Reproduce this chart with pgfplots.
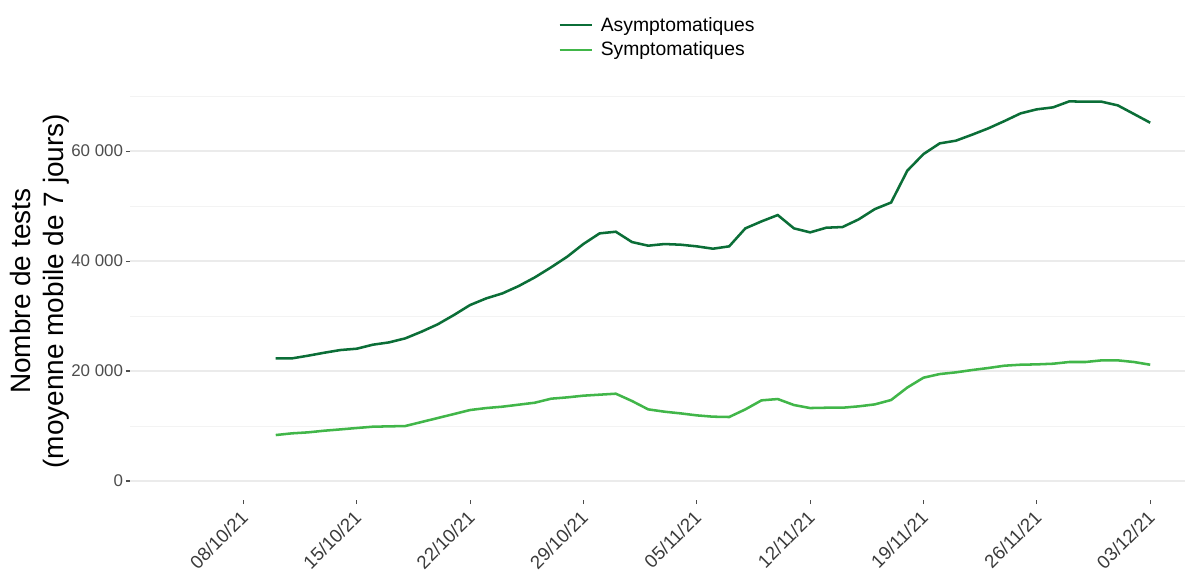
\documentclass[border=0pt]{standalone}
\usepackage{fontspec}
\setmainfont{Liberation Sans}
\usepackage{pgfplots}
\pgfplotsset{compat=1.18}
\definecolor{asym}{HTML}{0B6E37}
\definecolor{sym}{HTML}{41B649}
\definecolor{gridmaj}{HTML}{EBEBEB}
\definecolor{gridmin}{HTML}{F3F3F3}
\definecolor{ticklab}{HTML}{4D4D4D}
\definecolor{xlab}{HTML}{3A3A3A}
\begin{document}
\begin{tikzpicture}
\begin{axis}[
  at={(0pt,0pt)}, anchor=south west,
  scale only axis,
  width=791.25pt, height=313.2pt,
  xmin=-7.0, xmax=58.15,
  ymin=-3450, ymax=72480,
  scaled y ticks=false,
  axis x line*=bottom, axis y line*=left,
  axis line style={draw=none},
  tick align=outside,
  major tick length=3pt,
  minor tick length=0pt,
  tick style={color=ticklab, line width=0.8pt},
  xtick={0,7,14,21,28,35,42,49,56},
  xticklabels={08/10/21,15/10/21,22/10/21,29/10/21,05/11/21,12/11/21,19/11/21,26/11/21,03/12/21},
  xticklabel style={rotate=45, anchor=north east, font=\fontsize{14}{16}\selectfont, text=xlab, inner sep=1.5pt, xshift=-3pt, yshift=1pt},
  ytick={0,20000,40000,60000},
  yticklabels={0,20 000,40 000,60 000},
  minor ytick={10000,30000,50000,70000},
  yticklabel style={font=\fontsize{12.7}{15}\selectfont, text=ticklab, inner sep=2pt},
  ymajorgrids, yminorgrids,
  major grid style={color=gridmaj, line width=0.9pt},
  minor grid style={color=gridmin, line width=0.6pt},
  ylabel={Nombre de tests\\(moyenne mobile de 7 jours)},
  ylabel style={at={(axis description cs:-0.0853,0.5)}, anchor=center, align=center, font=\fontsize{21}{25}\selectfont},
  legend style={at={(axis description cs:0.4057,1.160)}, anchor=north west, draw=none, fill=none, inner sep=0pt, row sep=4.5pt,
    nodes={inner xsep=6pt, inner ysep=1pt, font=\fontsize{14.5}{17}\selectfont, anchor=west}},
  legend cell align=left,
  legend image code/.code={\draw[#1] (0pt,0pt) -- (24pt,0pt);},
]
\addplot[asym, line width=1.9pt] coordinates {
(2,22300) (3,22300) (4,22790) (5,23330) (6,23820) (7,24060) (8,24790) (9,25210)
(10,25940) (11,27150) (12,28490) (13,30180) (14,32000) (15,33210) (16,34120) (17,35450)
(18,37030) (19,38850) (20,40790) (21,43100) (22,45030) (23,45330) (24,43450) (25,42790)
(26,43090) (27,42970) (28,42670) (29,42240) (30,42670) (31,45940) (32,47210) (33,48360)
(34,45940) (35,45210) (36,46060) (37,46180) (38,47580) (39,49450) (40,50640) (41,56420)
(42,59450) (43,61390) (44,61880) (45,62970) (46,64120) (47,65450) (48,66850) (49,67580)
(50,67940) (51,69030) (52,68970) (53,68970) (54,68300) (55,66730) (56,65150)
};
\addlegendentry{Asymptomatiques}
\addplot[sym, line width=1.9pt] coordinates {
(2,8360) (3,8670) (4,8850) (5,9150) (6,9390) (7,9640) (8,9880) (9,9940)
(10,10000) (11,10730) (12,11450) (13,12180) (14,12910) (15,13270) (16,13520) (17,13880)
(18,14240) (19,14970) (20,15210) (21,15520) (22,15700) (23,15880) (24,14550) (25,13030)
(26,12610) (27,12300) (28,11940) (29,11700) (30,11640) (31,13030) (32,14670) (33,14910)
(34,13820) (35,13270) (36,13330) (37,13330) (38,13580) (39,13940) (40,14730) (41,17000)
(42,18790) (43,19450) (44,19760) (45,20180) (46,20550) (47,20970) (48,21150) (49,21210)
(50,21330) (51,21640) (52,21640) (53,21940) (54,21940) (55,21640) (56,21150)
};
\addlegendentry{Symptomatiques}
\end{axis}
\pgfresetboundingbox
\path (-97.5pt,-57pt) rectangle (792.75pt,375pt);
\end{tikzpicture}
\end{document}
